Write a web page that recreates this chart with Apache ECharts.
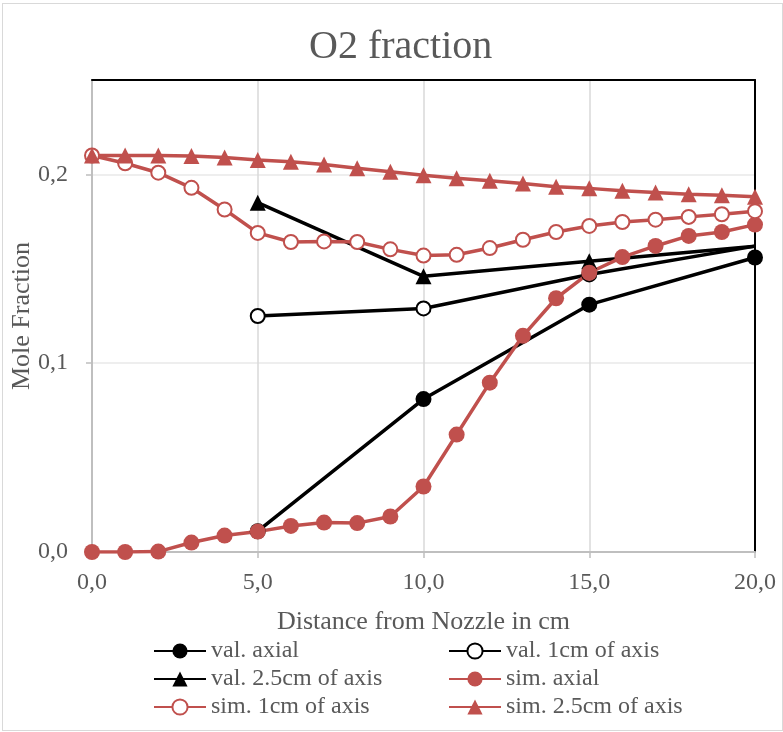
<!DOCTYPE html>
<html>
<head>
<meta charset="utf-8">
<script src="https://cdn.jsdelivr.net/npm/echarts@6/dist/echarts.min.js"></script>
<style>
  html, body { margin: 0; padding: 0; background: #fff; }
  #chart { width: 783px; height: 732px; }
  #frame { position: absolute; left: 2px; top: 3px; width: 779px; height: 726px; border: 1px solid #d9d9d9; pointer-events: none; }
</style>
</head>
<body>
<div id="chart"></div>
<div id="frame"></div>
<script>
// x positions (cm)
var simX = [0, 1, 2, 3, 4, 5, 6, 7, 8, 9, 10, 11, 12, 13, 14, 15, 16, 17, 18, 19, 20]
var valX = [5, 10, 15, 20]

// measured values
var valAxial = [0.011, 0.081, 0.131, 0.156]
var val1cm = [0.125, 0.129, 0.147, 0.162]
var val25cm = [0.185, 0.146, 0.154, 0.162]

// simulated values
var simAxial = [0.000, 0.000, 0.0002, 0.005, 0.0087, 0.0108, 0.0138, 0.0156, 0.0153, 0.0188, 0.0347,
  0.0622, 0.0897, 0.1145, 0.1344, 0.1479, 0.1562, 0.1621, 0.1674, 0.1695, 0.1734]
var sim1cm = [0.210, 0.2059, 0.2009, 0.1929, 0.1814, 0.169, 0.1642, 0.1645, 0.1642, 0.1603, 0.157,
  0.1574, 0.161, 0.1654, 0.1695, 0.1727, 0.1748, 0.176, 0.1775, 0.1789, 0.1805]
var sim25cm = [0.210, 0.210, 0.210, 0.2098, 0.209, 0.2076, 0.2067, 0.2053, 0.2032, 0.2014, 0.1996,
  0.1979, 0.1966, 0.1952, 0.1934, 0.1926, 0.1913, 0.1904, 0.1895, 0.189, 0.1881]

var yTicks = [0, 0.1, 0.2]

var RED = '#c0504d'
var FONT = 'Liberation Serif'
var GREY = '#595959'

// hideLast: the end point of the two off-axis val lines has no marker in the original
function lineSeries(name, xs, ys, color, symbol, hollow, hideLast) {
  var data = xs.map(function (x, i) {
    if (hideLast && i === xs.length - 1) return { value: [x, ys[i]], symbol: 'none' }
    return [x, ys[i]]
  })
  return {
    name: name,
    type: 'line',
    data: data,
    symbol: symbol,
    symbolSize: symbol === 'triangle' ? 16 : (hollow ? 14 : 16),
    showAllSymbol: true,
    animation: false,
    lineStyle: { color: color, width: 3.5 },
    itemStyle: hollow
      ? { color: '#fff', borderColor: color, borderWidth: 2 }
      : { color: color, borderWidth: 0 }
  }
}

function legendBox(left, names) {
  return {
    orient: 'vertical',
    left: left,
    top: 634,
    itemWidth: 52,
    itemHeight: 19,
    itemGap: 4,
    formatter: '{t|{name}}',
    textStyle: {
      fontFamily: FONT, fontSize: 24, color: GREY, lineHeight: 24,
      rich: { t: { fontFamily: FONT, fontSize: 24, color: GREY, lineHeight: 24 } }
    },
    data: names
  }
}

var chart = echarts.init(document.getElementById('chart'))
chart.setOption({
  backgroundColor: '#fff',
  textStyle: { fontFamily: FONT },
  title: {
    text: 'O2 fraction',
    left: 304,
    top: 22,
    textStyle: { fontFamily: FONT, fontSize: 40, fontWeight: 'normal', color: GREY }
  },
  grid: { left: 92, right: 28, top: 80, bottom: 180, outerBoundsMode: 'none' },
  legend: [
    legendBox(148, ['val. axial', 'val. 2.5cm of axis', 'sim. 1cm of axis']),
    legendBox(443, ['val. 1cm of axis', 'sim. axial', 'sim. 2.5cm of axis'])
  ],
  xAxis: [{
    type: 'value',
    min: 0,
    max: 20,
    interval: 5,
    name: 'Distance from Nozzle in cm',
    nameLocation: 'middle',
    nameGap: 57,
    nameMoveOverlap: false,
    nameTextStyle: { fontFamily: FONT, fontSize: 26, color: GREY },
    axisLine: { show: true, lineStyle: { color: '#bfbfbf', width: 2 } },
    axisTick: { show: true, length: 6, lineStyle: { color: '#bfbfbf', width: 1.5 } },
    axisLabel: {
      fontFamily: FONT, fontSize: 24, color: GREY, margin: 19,
      formatter: function (v) { return v.toFixed(1).replace('.', ',') }
    },
    splitLine: { show: true, lineStyle: { color: '#d9d9d9', width: 1.5 } }
  }, {
    type: 'value',
    position: 'top',
    min: 0,
    max: 20,
    interval: 5,
    axisLine: { show: true, onZero: false, lineStyle: { color: '#000', width: 2 } },
    axisTick: { show: false },
    axisLabel: { show: false },
    splitLine: { show: false }
  }],
  yAxis: [{
    type: 'value',
    min: 0,
    max: 0.25,
    interval: 0.02,
    name: 'Mole Fraction',
    nameLocation: 'middle',
    nameGap: 57,
    nameMoveOverlap: false,
    nameTextStyle: { fontFamily: FONT, fontSize: 26, color: GREY },
    axisLine: { show: true, lineStyle: { color: '#bfbfbf', width: 2 } },
    axisTick: { show: true, length: 6, customValues: yTicks, lineStyle: { color: '#bfbfbf', width: 1.5 } },
    axisLabel: {
      fontFamily: FONT, fontSize: 24, color: GREY, margin: 24,
      customValues: yTicks,
      formatter: function (v) { return v.toFixed(1).replace('.', ',') }
    },
    splitLine: { show: true, lineStyle: { color: '#eeeeee', width: 2 } }
  }, {
    type: 'value',
    position: 'right',
    min: 0,
    max: 0.25,
    interval: 0.05,
    axisLine: { show: true, onZero: false, lineStyle: { color: '#000', width: 2 } },
    axisTick: { show: false },
    axisLabel: { show: false },
    splitLine: { show: false }
  }],
  series: [
    lineSeries('val. axial', valX, valAxial, '#000', 'circle', false, false),
    lineSeries('val. 1cm of axis', valX, val1cm, '#000', 'circle', true, true),
    lineSeries('val. 2.5cm of axis', valX, val25cm, '#000', 'triangle', false, true),
    lineSeries('sim. axial', simX, simAxial, RED, 'circle', false, false),
    lineSeries('sim. 1cm of axis', simX, sim1cm, RED, 'circle', true, false),
    lineSeries('sim. 2.5cm of axis', simX, sim25cm, RED, 'triangle', false, false)
  ]
})
</script>
</body>
</html>
